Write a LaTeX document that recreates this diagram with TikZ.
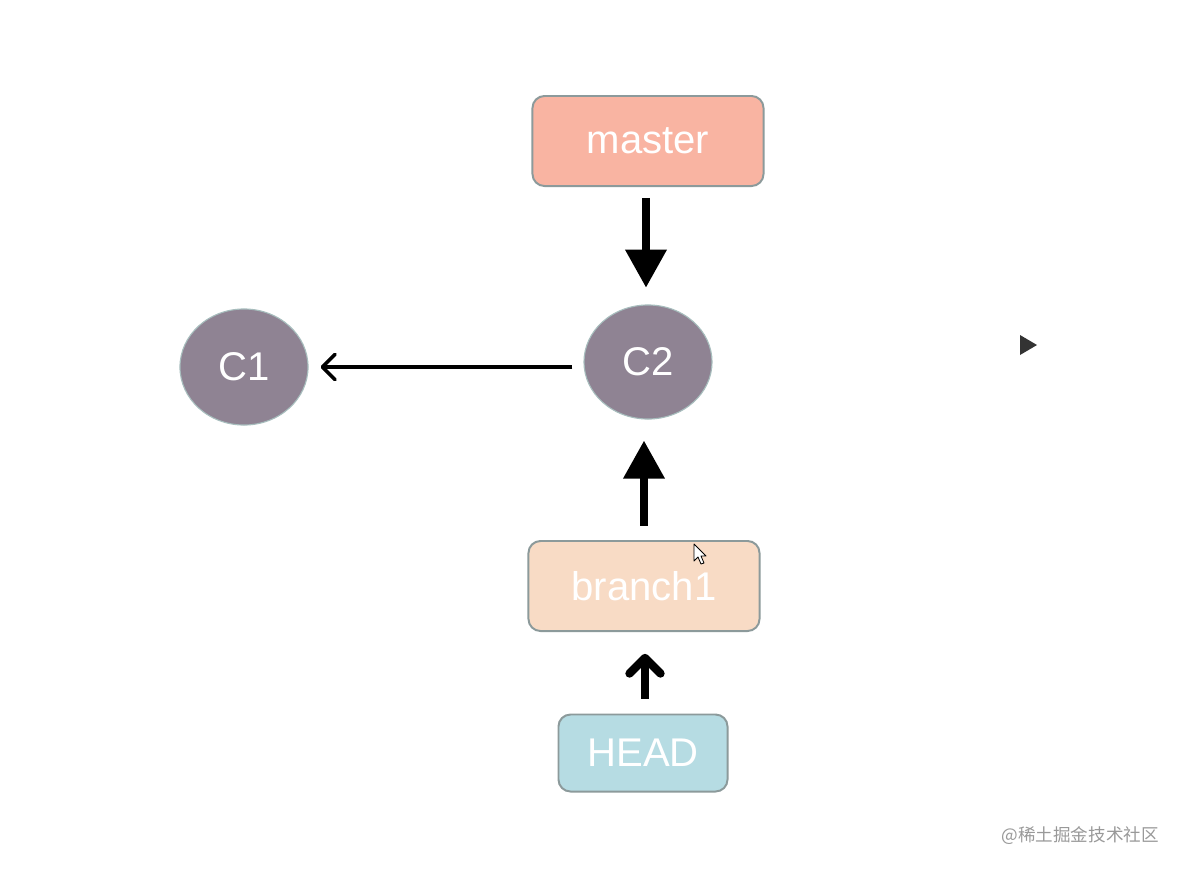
\documentclass[tikz,border=0pt]{standalone}
\usepackage{fontspec}
\setmainfont{Liberation Sans}
\newfontfamily\cjk{Noto Sans CJK SC}
\usetikzlibrary{positioning,shapes.geometric,arrows.meta}
\definecolor{masterfill}{HTML}{F9B4A2}
\definecolor{branchfill}{HTML}{F8DBC5}
\definecolor{headfill}{HTML}{B6DCE3}
\definecolor{commitfill}{HTML}{8F8393}
\definecolor{boxline}{HTML}{8C9A9B}
\definecolor{commitline}{HTML}{A7BDBD}
\tikzset{refbox/.style={draw=boxline, line width=1.4pt, rounded corners=0.3cm, minimum width=5.775cm, minimum height=2.25cm, inner sep=0pt, text=white, font=\fontsize{28.5}{34}\selectfont},
commit/.style={ellipse, draw=commitline, line width=0.8pt, fill=commitfill, minimum width=3.2cm, minimum height=2.85cm, inner sep=0pt, text=white, font=\fontsize{28.5}{34}\selectfont},
bigline/.style={line width=5pt, -{Triangle[length=27pt, width=28.5pt]}},
thinline/.style={line width=2.6pt, -{Straight Barb[length=9pt, width=18pt, round]}},
headline/.style={line width=6pt, -{Straight Barb[length=11pt, width=22pt, round]}}
}

\begin{document}
\begin{tikzpicture}[x=0.025cm, y=-0.025cm]
    \fill [white] (0,0) rectangle (1183,870);
    \useasboundingbox (0,0) rectangle (1183,870);
    % Nodes
    \node [refbox, fill=masterfill] (master) at (648,141) {master};
    \node [commit] (c2) at (648,362) {C2};
    \node [commit, minimum height=2.9cm] (c1) at (244,367) {C1};
    \node [refbox, fill=branchfill] (branch1) at (644,586) {branch1};
    \node [refbox, fill=headfill, minimum width=4.225cm, minimum height=1.925cm] (head) at (643,753) {HEAD};
    % Arrows
    \draw [bigline, shorten <=7.8pt, shorten >=12pt] ([xshift=-0.05cm]master.south) -- ([xshift=-0.05cm]c2.north);
    \draw [thinline, shorten <=7.8pt, shorten >=8.5pt] (c2.west |- c1) -- (c1.east);
    \draw [bigline, shorten <=10pt, shorten >=15pt] (branch1.north) -- (branch1.north |- c2.south);
    \draw [headline, shorten <=10.5pt, shorten >=15.5pt] ([xshift=0.05cm]head.north) -- ([xshift=0.05cm]head.north |- branch1.south);
    % Extras
    \fill [black!80] (1020,335) -- (1037,345) -- (1020,355) -- cycle;
    \draw [black, line width=0.6pt, fill=white, line join=round] (694,544) -- (694,561) -- (698,557) -- (701,564) -- (704,563) -- (701,556) -- (706,556) -- cycle;
    \node [anchor=east, text=black!40, font=\cjk\fontsize{12.5}{14}\selectfont, inner sep=0pt] (mark) at (1159,836) {@稀土掘金技术社区};
\end{tikzpicture}
\end{document}
